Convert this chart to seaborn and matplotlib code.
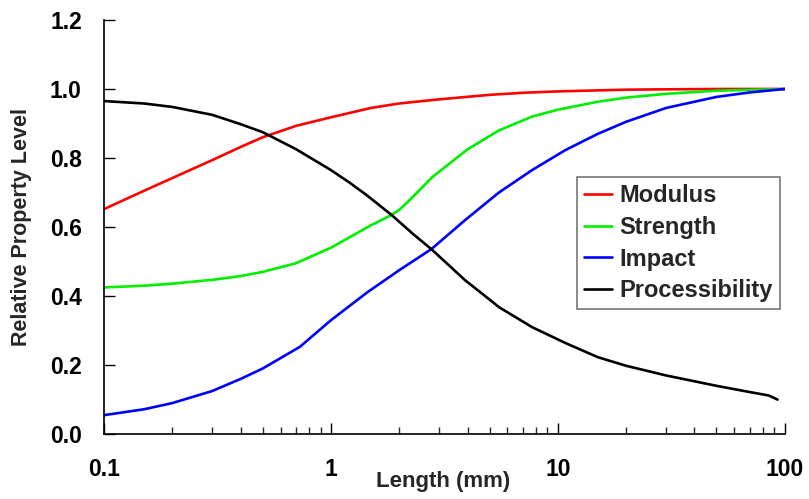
import numpy as np
import pandas as pd
import seaborn as sns
import matplotlib.pyplot as plt
from matplotlib.ticker import FixedLocator, LogLocator, NullFormatter

# values (length in mm, relative level)
modulus_x = [0.1, 0.15, 0.2, 0.3, 0.4, 0.5, 0.7, 1, 1.5, 2, 3, 5, 7, 10, 15, 20, 30, 50, 100]
modulus_y = [0.652, 0.705, 0.742, 0.794, 0.832, 0.86, 0.893, 0.918, 0.945, 0.958, 0.970, 0.983, 0.989,
             0.993, 0.996, 0.998, 0.999, 1.0, 1.0]

strength_x = [0.1, 0.15, 0.2, 0.3, 0.4, 0.5, 0.7, 1, 1.5, 1.85, 2, 2.2, 2.8, 4, 5.5, 7.7, 10, 15, 20, 30,
              50, 100]
strength_y = [0.425, 0.43, 0.436, 0.447, 0.458, 0.47, 0.495, 0.54, 0.605, 0.635, 0.65, 0.675, 0.745,
              0.825, 0.88, 0.92, 0.94, 0.963, 0.975, 0.986, 0.995, 1.0]

impact_x = [0.1, 0.15, 0.2, 0.3, 0.4, 0.5, 0.73, 1, 1.44, 2, 2.77, 3.9, 5.5, 7.7, 10.8, 15, 20, 30, 50,
            70, 100]
impact_y = [0.055, 0.072, 0.09, 0.125, 0.16, 0.19, 0.253, 0.33, 0.41, 0.475, 0.536, 0.62, 0.70, 0.765,
            0.823, 0.87, 0.905, 0.945, 0.977, 0.99, 1.0]

proc_x = [0.1, 0.15, 0.2, 0.3, 0.4, 0.5, 0.7, 1, 1.2, 1.44, 1.85, 2.3, 2.77, 3.3, 3.9, 5, 5.5, 7.7, 10.8,
          15, 20, 30, 50, 70, 85, 93]
proc_y = [0.965, 0.958, 0.948, 0.925, 0.898, 0.875, 0.826, 0.765, 0.73, 0.692, 0.635, 0.58, 0.536, 0.49,
          0.446, 0.39, 0.368, 0.31, 0.264, 0.223, 0.198, 0.17, 0.14, 0.122, 0.112, 0.10]

names = ['Modulus', 'Strength', 'Impact', 'Processibility']
colors = ['#ff0000', '#00ee00', '#0000ff', '#000000']
xs_all = [modulus_x, strength_x, impact_x, proc_x]
ys_all = [modulus_y, strength_y, impact_y, proc_y]

sns.set_style('ticks')
plt.rcParams['font.family'] = ['Liberation Sans', 'DejaVu Sans']
plt.rcParams['font.weight'] = 'bold'

fig = plt.figure(figsize=(8.09, 4.99), dpi=100)
ax = fig.add_axes([0.1286, 0.130, 0.8414, 0.830])

for name, xs, ys, col in zip(names, xs_all, ys_all, colors):
    df = pd.DataFrame({'x': xs, 'y': ys})
    sns.lineplot(data=df, x='x', y='y', ax=ax, color=col, linewidth=1.9, label=name)

ax.set_xscale('log')
ax.set_xlim(0.1, 100)
ax.set_ylim(0, 1.2)
ax.yaxis.set_major_locator(FixedLocator([0, 0.2, 0.4, 0.6, 0.8, 1.0, 1.2]))
ax.set_yticklabels(['0.0', '0.2', '0.4', '0.6', '0.8', '1.0', '1.2'])
ax.xaxis.set_major_locator(FixedLocator([0.1, 1, 10, 100]))
ax.set_xticklabels(['0.1', '1', '10', '100'])
ax.xaxis.set_minor_locator(LogLocator(base=10, subs=np.arange(2, 10)))
ax.xaxis.set_minor_formatter(NullFormatter())

ax.tick_params(axis='both', which='major', direction='in', length=8, width=1, labelsize=16.5, colors='black')
ax.tick_params(axis='y', which='major', pad=16)
ax.tick_params(axis='x', which='major', pad=17)
ax.tick_params(axis='x', which='minor', direction='in', length=5, width=1)
for sp in ['top', 'right']:
    ax.spines[sp].set_visible(False)
for sp in ['left', 'bottom']:
    ax.spines[sp].set_color('black')
    ax.spines[sp].set_linewidth(1.2)

ax.set_xlabel('Length (mm)', fontsize=16, fontweight='bold')
ax.set_ylabel('Relative Property Level', fontsize=15.5, fontweight='bold')
ax.xaxis.set_label_coords(0.498, -0.088)
ax.yaxis.set_label_coords(-0.106, 0.5)

leg = ax.legend(loc='upper left', bbox_to_anchor=(0.6946, 0.6208), borderaxespad=0, fontsize=17,
                frameon=True, fancybox=False, edgecolor='#555555', handlelength=1.2, handletextpad=0.3,
                borderpad=0.3, labelspacing=0.37)
leg.get_frame().set_linewidth(1.2)
for t in leg.get_texts():
    t.set_fontweight('bold')

fig.savefig('out.png', dpi=100)
